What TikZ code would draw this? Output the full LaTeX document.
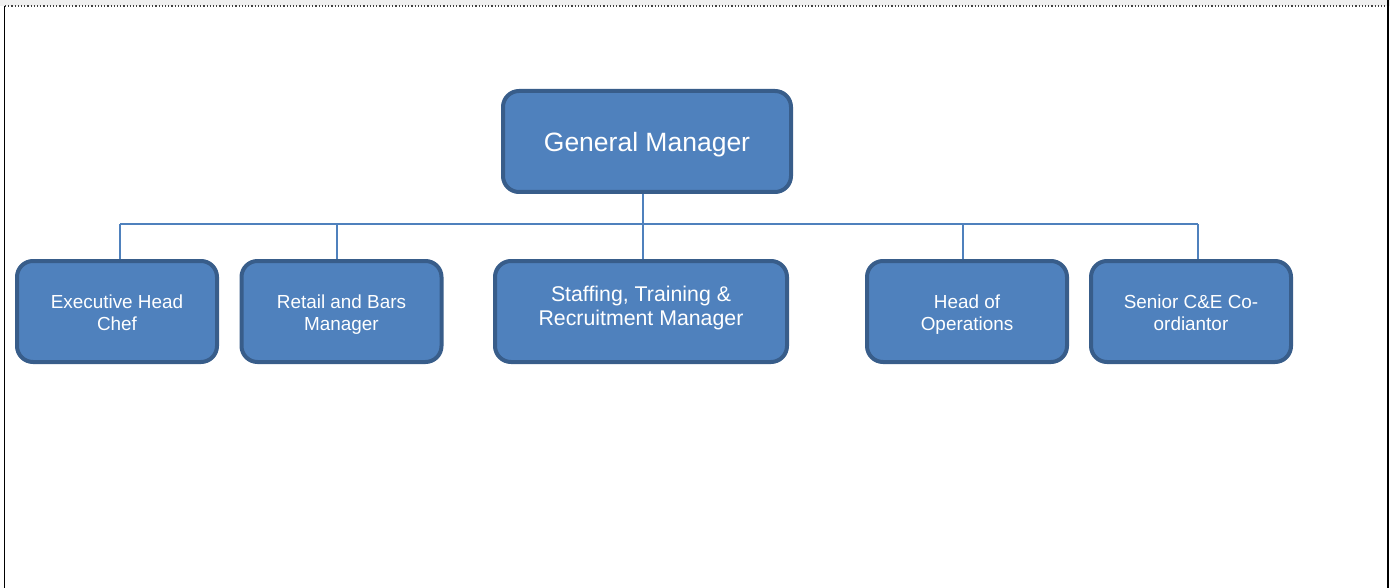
\documentclass[tikz,border=0pt]{standalone}
\usepackage{fontspec}
\setmainfont{Liberation Sans}
\definecolor{boxfill}{HTML}{4F81BD}
\definecolor{boxline}{HTML}{385D8A}
\definecolor{conn}{HTML}{4F81BD}
\definecolor{band}{HTML}{F0F0F0}
\newcommand{\topstr}[1]{\rule{0pt}{#1}}
\newcommand{\botstr}[1]{\rule[-#1]{0pt}{#1}}
\begin{document}
\begin{tikzpicture}[x=1pt,y=-1pt,
  orgbox/.style={draw=boxline,fill=boxfill,line width=4pt,rounded corners=16pt,
    text=white,align=center,inner sep=0pt,minimum height=101pt,minimum width=200pt,
    font=\fontsize{18.9pt}{22pt}\selectfont},
  link/.style={draw=conn,line width=1.6pt}]
\useasboundingbox (0,0) rectangle (1394,588);
\fill[white] (0,0) rectangle (1394,588);
\fill[band] (0,0) rectangle (1390,6);
\draw[line width=1.2pt,dotted,black!75] (5,6) -- (1387,6);
\draw[line width=1pt,black] (4,6) -- (4,588);
\draw[line width=2.2pt,black] (1388,0) -- (1388,588);

\node[orgbox,minimum width=288pt,font=\fontsize{26.5pt}{30pt}\selectfont] (gm) at (647,141.5) {\topstr{27.6pt}General Manager\botstr{6.6pt}};
\node[orgbox] (exec) at (117,311.5) {\topstr{21.6pt}Executive Head\\Chef\botstr{6.6pt}};
\node[orgbox] (retail) at (341.5,311.5) {\topstr{21.6pt}Retail and Bars\\Manager\botstr{6.6pt}};
\node[orgbox,minimum width=292pt,font=\fontsize{21.3pt}{24pt}\selectfont] (staff) at (641,311.5) {\topstr{19pt}Staffing, Training \&\\Recruitment Manager\botstr{16pt}};
\node[orgbox] (ops) at (967,311.5) {\topstr{21.6pt}Head of\\Operations\botstr{6.6pt}};
\node[orgbox] (senior) at (1191,311.5) {\topstr{21.6pt}Senior C\&E Co-\\ordiantor\botstr{6.6pt}};

\coordinate (bexec) at (120,224);
\coordinate (bretail) at (337,224);
\coordinate (bgm) at (643,224);
\coordinate (bops) at (963,224);
\coordinate (bsenior) at (1198,224);

\draw[link] (bexec) -- (bsenior);
\draw[link] (bgm |- gm.south) -- (bgm) -- (bgm |- staff.north);
\draw[link] (bexec) -- (bexec |- exec.north);
\draw[link] (bretail) -- (bretail |- retail.north);
\draw[link] (bops) -- (bops |- ops.north);
\draw[link] (bsenior) -- (bsenior |- senior.north);
\end{tikzpicture}
\end{document}
